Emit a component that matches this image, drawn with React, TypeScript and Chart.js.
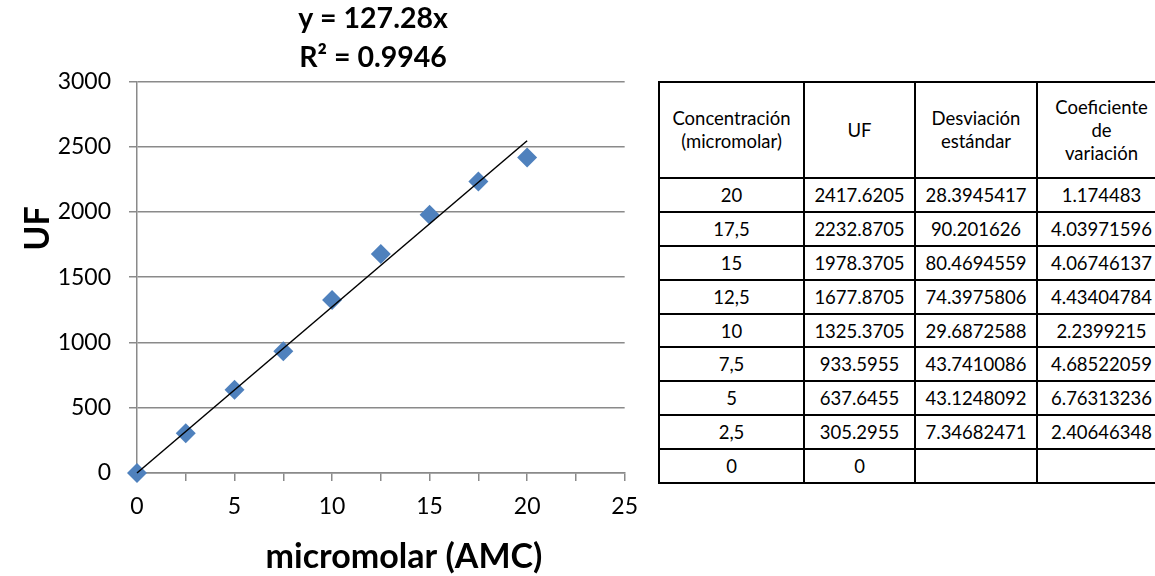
import React, { useEffect, useRef } from 'react';
import { Chart, registerables } from 'chart.js';

Chart.register(...registerables);

// ---- Data ----
const concentrations = [0, 2.5, 5, 7.5, 10, 12.5, 15, 17.5, 20];
const ufValues = [0, 305.2955, 637.6455, 933.5955, 1325.3705, 1677.8705, 1978.3705, 2232.8705, 2417.6205];
const trendSlope = 127.28;
const trendX = [0, 20];
const titleLines = ['y = 127.28x', 'R² = 0.9946'];
const xAxisTitle = 'micromolar (AMC)';
const yAxisTitle = 'UF';

const tableHeaders = [['Concentración', '(micromolar)'], ['UF'], ['Desviación', 'estándar'], ['Coeficiente', 'de', 'variación']];
const tableConc = ['20', '17,5', '15', '12,5', '10', '7,5', '5', '2,5', '0'];
const tableUF = ['2417.6205', '2232.8705', '1978.3705', '1677.8705', '1325.3705', '933.5955', '637.6455', '305.2955', '0'];
const tableSD = ['28.3945417', '90.201626', '80.4694559', '74.3975806', '29.6872588', '43.7410086', '43.1248092', '7.34682471', ''];
const tableCV = ['1.174483', '4.03971596', '4.06746137', '4.43404784', '2.2399215', '4.68522059', '6.76313236', '2.40646348', ''];

const FONT = 'Lato, "Open Sans", sans-serif';
const GRID = '#8a8a8a';

// Chart title (trendline equation) and axis titles, placed like the Excel original
const titlesPlugin = {
  id: 'excelTitles',
  afterDraw(chart: any) {
    const { ctx, chartArea } = chart;
    ctx.save();
    ctx.fillStyle = '#000';
    ctx.textAlign = 'center';
    ctx.textBaseline = 'middle';
    ctx.font = `bold 28.5px ${FONT}`;
    titleLines.forEach((line, i) => {
      ctx.fillText(line, chartArea.left + 236, chartArea.top - 63 + i * 39);
    });
    ctx.font = `bold 34px ${FONT}`;
    ctx.fillText(xAxisTitle, chartArea.left + 267, chartArea.bottom + 84);
    ctx.translate(chartArea.left - 99, chartArea.top + 147);
    ctx.rotate(-Math.PI / 2);
    ctx.fillText(yAxisTitle, 0, 0);
    ctx.restore();
  },
};

function ScatterChart() {
  const ref = useRef<HTMLCanvasElement | null>(null);
  useEffect(() => {
    if (!ref.current) return;
    const chart = new Chart(ref.current, {
      type: 'scatter',
      data: {
        datasets: [
          {
            type: 'line',
            label: 'Tendencia',
            data: trendX.map((x) => ({ x, y: trendSlope * x })),
            borderColor: '#000',
            borderWidth: 1.5,
            pointRadius: 0,
            fill: false,
            clip: false,
          } as any,
          {
            label: 'UF',
            data: concentrations.map((x, i) => ({ x, y: ufValues[i] })),
            backgroundColor: '#4f81bd',
            borderColor: '#4f81bd',
            borderWidth: 0,
            pointStyle: 'rectRot',
            pointRadius: 10,
            clip: false,
          },
        ],
      },
      options: {
        animation: false,
        responsive: false,
        layout: { padding: { top: 81.4, right: 25, left: 0, bottom: 0 } },
        plugins: {
          legend: { display: false },
          tooltip: { enabled: false },
          title: { display: false },
        },
        scales: {
          x: {
            type: 'linear',
            min: 0,
            max: 25,
            afterFit: (s: any) => { s.height = 103; },
            ticks: {
              stepSize: 2.5,
              autoSkip: false,
              maxRotation: 0,
              padding: 12,
              color: '#000',
              font: { family: FONT, size: 23 },
              callback: (v: any) => (Number(v) % 5 === 0 ? String(v) : ''),
            },
            grid: { drawOnChartArea: false, drawTicks: true, tickLength: 8, color: GRID, lineWidth: 1.5 },
            border: { display: true, color: GRID, width: 1.5 },
          },
          y: {
            min: 0,
            max: 3000,
            afterFit: (s: any) => { s.width = 137; },
            ticks: {
              stepSize: 500,
              padding: 18,
              color: '#000',
              font: { family: FONT, size: 23 },
              callback: (v: any) => String(v),
            },
            grid: { color: GRID, lineWidth: 1.5, tickLength: 8 },
            border: { display: true, color: GRID, width: 1.5 },
          },
        },
      },
      plugins: [titlesPlugin],
    } as any);
    return () => chart.destroy();
  }, []);
  return <canvas ref={ref} width={650} height={576} style={{ width: 650, height: 576, display: 'block' }} />;
}

const cellStyle: React.CSSProperties = {
  border: '2px solid #000',
  textAlign: 'center',
  verticalAlign: 'middle',
  padding: 0,
  whiteSpace: 'nowrap',
};
const lastCellStyle: React.CSSProperties = { ...cellStyle, borderRight: 'none' };

export default function App() {
  return (
    <div style={{ position: 'fixed', left: 0, top: 0, width: 1155, height: 576, overflow: 'hidden', background: '#fff' }}>
      <div style={{ position: 'absolute', left: 0, top: 0 }}>
        <ScatterChart />
      </div>
      <table
        style={{
          position: 'absolute',
          left: 658,
          top: 81,
          borderCollapse: 'collapse',
          tableLayout: 'fixed',
          width: 506,
          fontFamily: FONT,
          fontSize: 18.5,
          color: '#000',
        }}
      >
        <colgroup>
          <col style={{ width: 145 }} />
          <col style={{ width: 111 }} />
          <col style={{ width: 122 }} />
          <col style={{ width: 128 }} />
        </colgroup>
        <thead>
          <tr style={{ height: 96 }}>
            {tableHeaders.map((lines, i) => (
              <th
                key={i}
                style={{ ...(i === tableHeaders.length - 1 ? lastCellStyle : cellStyle), fontWeight: 'normal', lineHeight: '23px' }}
              >
                {lines.map((l, j) => (
                  <div key={j}>{l}</div>
                ))}
              </th>
            ))}
          </tr>
        </thead>
        <tbody>
          {tableConc.map((c, i) => (
            <tr key={i} style={{ height: 33.9 }}>
              <td style={cellStyle}>{c}</td>
              <td style={cellStyle}>{tableUF[i]}</td>
              <td style={cellStyle}>{tableSD[i]}</td>
              <td style={lastCellStyle}>{tableCV[i]}</td>
            </tr>
          ))}
        </tbody>
      </table>
    </div>
  );
}
